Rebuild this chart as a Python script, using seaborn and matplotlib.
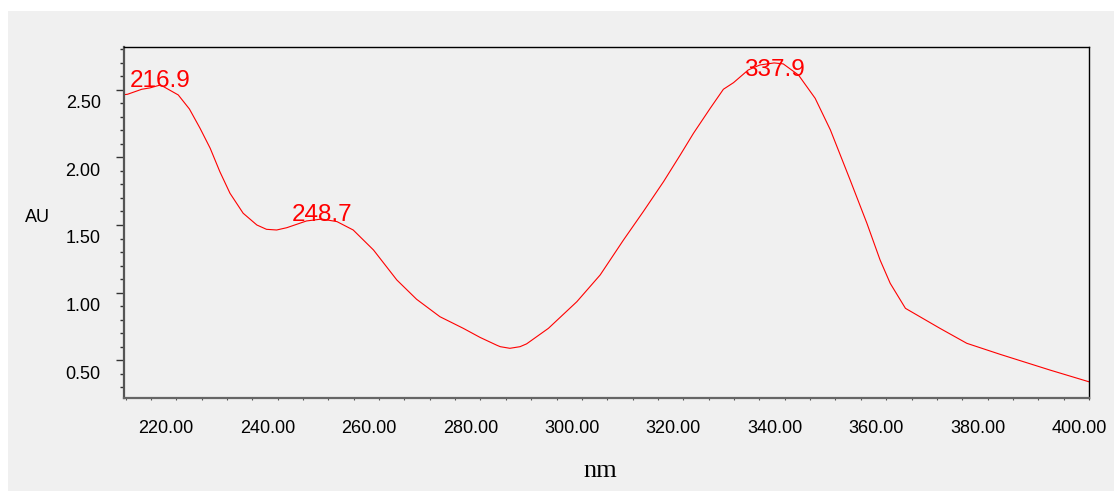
import numpy as np
import pandas as pd
import matplotlib
matplotlib.use("Agg")
import matplotlib.pyplot as plt
import matplotlib.transforms as mtransforms
from matplotlib.patches import Rectangle
from matplotlib.ticker import MultipleLocator, FormatStrFormatter
import seaborn as sns

# spectrum
wavelength = [209.7, 210.4, 213.2, 214.8, 216.9, 220.4, 222.6, 224.7, 226.7, 228.6,
              230.6, 233.2, 235.9, 237.8, 239.8, 241.8, 245.7, 248.7, 251.7, 254.9,
              258.9, 263.5, 267.4, 272.0, 276.6, 279.9, 283.2, 283.9, 285.8, 287.8,
              289.1, 293.4, 299.0, 303.6, 308.2, 312.1, 316.1, 319.4, 322.0, 325.3,
              327.9, 329.9, 332.8, 335.1, 337.9, 339.7, 342.7, 346.0, 349.0, 352.9,
              356.2, 358.8, 360.8, 363.8, 370.6, 375.9, 382.5, 392.3, 400.0]
absorbance = [2.465, 2.468, 2.505, 2.515, 2.537, 2.463, 2.359, 2.216, 2.068, 1.895,
              1.735, 1.587, 1.500, 1.468, 1.463, 1.480, 1.530, 1.544, 1.525, 1.463,
              1.315, 1.093, 0.950, 0.821, 0.735, 0.668, 0.610, 0.599, 0.587, 0.599,
              0.620, 0.735, 0.932, 1.130, 1.389, 1.599, 1.821, 2.019, 2.179, 2.364,
              2.505, 2.554, 2.648, 2.685, 2.700, 2.693, 2.611, 2.438, 2.204, 1.833,
              1.513, 1.241, 1.068, 0.883, 0.735, 0.624, 0.542, 0.426, 0.339]

peak_nm = [216.9, 248.7, 337.9]
peak_au = [2.537, 1.544, 2.700]
peak_labels = ["216.9", "248.7", "337.9"]

df = pd.DataFrame({"nm": wavelength, "AU": absorbance})

sns.set_style("white")
plt.rcParams["font.family"] = ["Liberation Sans", "DejaVu Sans"]
plt.rcParams["text.color"] = "black"
plt.rcParams["xtick.color"] = "black"
plt.rcParams["ytick.color"] = "black"

fig = plt.figure(figsize=(11.14, 4.91), dpi=100)
fig.patch.set_facecolor("white")
fig.patches.append(Rectangle((8 / 1114, 0), 1106 / 1114, 480 / 491,
                             transform=fig.transFigure, facecolor="#f0f0f0",
                             edgecolor="none", zorder=-10))

ax = fig.add_axes([124 / 1114, 1 - 398 / 491, (1089 - 124) / 1114, (398 - 47) / 491])
ax.set_facecolor("#f0f0f0")

sns.lineplot(data=df, x="nm", y="AU", ax=ax, color="#ff0000", linewidth=0.8, sort=False)

ax.set_xlim(209.7, 400)
ax.set_ylim(0.219, 2.818)

ax.xaxis.set_major_locator(MultipleLocator(20))
ax.xaxis.set_minor_locator(MultipleLocator(5))
ax.yaxis.set_major_locator(MultipleLocator(0.5))
ax.yaxis.set_minor_locator(MultipleLocator(0.1))
ax.xaxis.set_major_formatter(FormatStrFormatter("%.2f"))
ax.yaxis.set_major_formatter(FormatStrFormatter("%.2f"))

ax.tick_params(axis="x", which="both", length=1.5, width=0.8, color="#555555",
               direction="out", pad=14, labelsize=13, labelcolor="black")
ax.tick_params(axis="y", which="major", length=5.8, width=1, color="#333333",
               direction="out", pad=11, labelsize=13, labelcolor="black")
ax.tick_params(axis="y", which="minor", length=2.9, width=1, color="#333333",
               direction="out")
ax.tick_params(left=True, bottom=True, which="both")

# labels sit slightly off their ticks in the original software
xoff = mtransforms.ScaledTranslation(-10 / 100, 0, fig.dpi_scale_trans)
yoff = mtransforms.ScaledTranslation(0, -12 / 100, fig.dpi_scale_trans)
for lab in ax.get_xticklabels():
    lab.set_transform(lab.get_transform() + xoff)
for lab in ax.get_yticklabels():
    lab.set_transform(lab.get_transform() + yoff)

for side in ["top", "right"]:
    ax.spines[side].set_color("black")
    ax.spines[side].set_linewidth(1)
ax.spines["left"].set_color("#555555")
ax.spines["left"].set_linewidth(1.6)
ax.spines["bottom"].set_color("#666666")
ax.spines["bottom"].set_linewidth(1.6)

ax.set_xlabel("")
ax.set_ylabel("")

for x, y, t in zip(peak_nm, peak_au, peak_labels):
    ax.text(x, min(y - 0.015, 2.604), t, color="#ff0000", fontsize=17.5,
            ha="center", va="baseline")

fig.text(37 / 1114, 1 - 217 / 491, "AU", fontsize=13, ha="center", va="center")
fig.text(600 / 1114, 1 - 471 / 491, "nm", fontsize=19, ha="center", va="center",
         family=["Liberation Serif", "DejaVu Serif"])

fig.savefig("out.png", dpi=100, facecolor=fig.get_facecolor())
